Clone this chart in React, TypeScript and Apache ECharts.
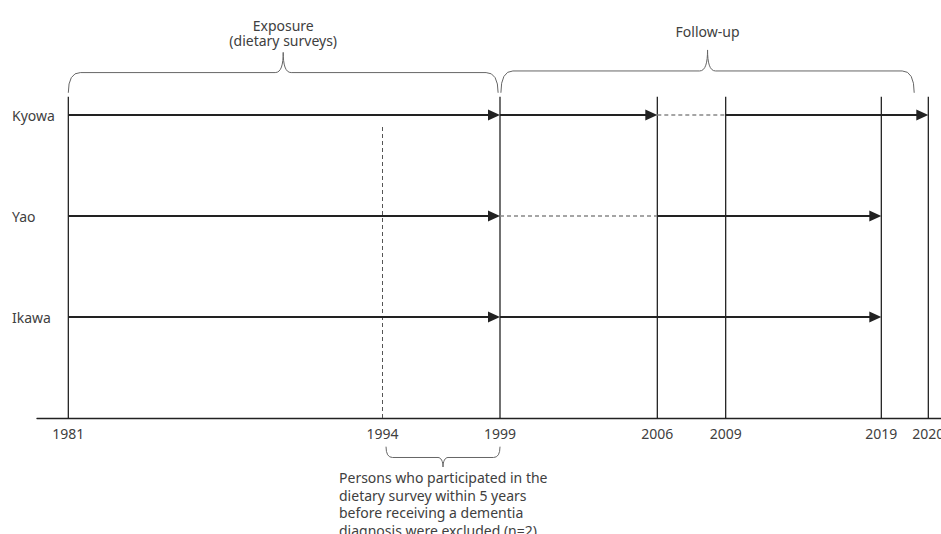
import React, { useEffect, useRef } from "react";
import * as echarts from "echarts";

// Years marked on the timeline and their schematic position along it (the original is not drawn to scale)
const tickYears = [1981, 1994, 1999, 2006, 2009, 2019, 2020];
const tickSlots = [31.3, 345.5, 463, 620.3, 688.7, 844.3, 891.3];

// Cohort rows (y value 1..3)
const cohorts = ["Ikawa", "Yao", "Kyowa"];

// Segments: [fromYear, toYear, row, dashed (0/1), arrowHead (0/1)]
const kyowaSegments = [
  [1981, 1999, 3, 0, 1],
  [1999, 2006, 3, 0, 1],
  [2006, 2009, 3, 1, 0],
  [2009, 2020, 3, 0, 1],
];
const yaoSegments = [
  [1981, 1999, 2, 0, 1],
  [1999, 2006, 2, 1, 0],
  [2006, 2019, 2, 0, 1],
];
const ikawaSegments = [
  [1981, 1999, 1, 0, 1],
  [1999, 2019, 1, 0, 1],
];

// Vertical markers: [year, top (row units), dashed (0/1)]
const markers = [
  [1981, 3.18, 0],
  [1994, 2.9, 1],
  [1999, 3.18, 0],
  [2006, 3.18, 0],
  [2009, 3.18, 0],
  [2019, 3.18, 0],
  [2020, 3.18, 0],
];

// Braces: [fromYear, toYear, endY, barY, tipY]
const braces = [
  [1981, 1998.92, 3.22, 3.42, 3.62],
  [1999.04, 2019.7, 3.22, 3.436, 3.644],
  [1994.15, 1999, -0.284, -0.391, -0.485],
];
const braceLabels = [
  "Exposure\n(dietary surveys)",
  "Follow-up",
  "Persons who participated in the\ndietary survey within 5 years\nbefore receiving a dementia\ndiagnosis were excluded (n=2)",
];

function slotOf(year: number): number {
  for (let i = 0; i < tickYears.length - 1; i++) {
    const a = tickYears[i];
    const b = tickYears[i + 1];
    if (year >= a && year <= b) {
      const t = (year - a) / (b - a);
      return tickSlots[i] + t * (tickSlots[i + 1] - tickSlots[i]);
    }
  }
  return year < tickYears[0] ? tickSlots[0] : tickSlots[tickSlots.length - 1];
}

const FONT = "'Noto Sans', 'Noto Sans CJK JP', sans-serif";
const TEXT_COLOR = "#404040";

export default function App() {
  const ref = useRef<HTMLDivElement>(null);

  useEffect(() => {
    if (!ref.current) return;
    const chart = echarts.init(ref.current, undefined, { renderer: "svg" });

    const segmentData = [...kyowaSegments, ...yaoSegments, ...ikawaSegments].map((s) => [
      slotOf(s[0]),
      slotOf(s[1]),
      s[2],
      s[3],
      s[4],
    ]);
    const markerData = markers.map((m) => [slotOf(m[0]), m[1], m[2]]);
    const braceData = braces.map((b) => [slotOf(b[0]), slotOf(b[1]), b[2], b[3], b[4]]);

    const option: any = {
      animation: false,
      backgroundColor: "#ffffff",
      grid: {
        left: 37,
        right: 0,
        top: 14,
        bottom: 116,
        containLabel: false,
        outerBoundsMode: "none",
      },
      xAxis: {
        type: "value",
        min: 0,
        max: 904,
        axisLine: { show: true, onZero: true, lineStyle: { color: "#222", width: 1.4 } },
        axisTick: { show: false },
        splitLine: { show: false },
        axisLabel: {
          customValues: tickSlots,
          margin: 8,
          color: TEXT_COLOR,
          fontSize: 14,
          fontFamily: FONT,
          hideOverlap: false,
          formatter: (v: number) => {
            let best = 0;
            for (let i = 0; i < tickSlots.length; i++) {
              if (Math.abs(tickSlots[i] - v) < Math.abs(tickSlots[best] - v)) best = i;
            }
            return String(tickYears[best]);
          },
        },
      },
      yAxis: {
        type: "value",
        min: 0,
        max: 4,
        interval: 1,
        axisLine: { show: false },
        axisTick: { show: false },
        splitLine: { show: false },
        axisLabel: {
          align: "left",
          margin: 25,
          color: TEXT_COLOR,
          fontSize: 14,
          fontFamily: FONT,
          formatter: (v: number) => cohorts[v - 1] || "",
        },
      },
      series: [
        {
          type: "custom",
          name: "markers",
          clip: false,
          data: markerData,
          renderItem: (params: any, api: any) => {
            const x = api.value(0);
            const top = api.value(1);
            const dashed = api.value(2) === 1;
            const p0 = api.coord([x, 0]);
            const p1 = api.coord([x, top]);
            return {
              type: "line",
              shape: { x1: p0[0], y1: p0[1], x2: p1[0], y2: p1[1] },
              style: dashed
                ? { stroke: "#555", lineWidth: 1, lineDash: [4, 3] }
                : { stroke: "#111", lineWidth: 1.2 },
            };
          },
        },
        {
          type: "custom",
          name: "segments",
          clip: false,
          data: segmentData,
          renderItem: (params: any, api: any) => {
            const xa = api.value(0);
            const xb = api.value(1);
            const row = api.value(2);
            const dashed = api.value(3) === 1;
            const arrow = api.value(4) === 1;
            const p1 = api.coord([xa, row]);
            const p2 = api.coord([xb, row]);
            const len = 12;
            const half = 5.5;
            const children: any[] = [
              {
                type: "line",
                shape: { x1: p1[0], y1: p1[1], x2: arrow ? p2[0] - len + 1 : p2[0], y2: p2[1] },
                style: dashed
                  ? { stroke: "#888", lineWidth: 1.5, lineDash: [4, 3] }
                  : { stroke: "#222", lineWidth: 2.2 },
              },
            ];
            if (arrow) {
              children.push({
                type: "polygon",
                shape: {
                  points: [
                    [p2[0] - len, p2[1] - half],
                    [p2[0], p2[1]],
                    [p2[0] - len, p2[1] + half],
                  ],
                },
                style: { fill: "#222", stroke: "none" },
              });
            }
            return { type: "group", children };
          },
        },
        {
          type: "custom",
          name: "braces",
          clip: false,
          data: braceData,
          renderItem: (params: any, api: any) => {
            const xa = api.value(0);
            const xb = api.value(1);
            const pa = api.coord([xa, api.value(2)]);
            const pb = api.coord([xb, api.value(2)]);
            const yh = api.coord([xa, api.value(3)])[1];
            const yt = api.coord([xa, api.value(4)])[1];
            const yb = pa[1];
            const x1 = pa[0];
            const x2 = pb[0];
            const xc = (x1 + x2) / 2;
            const endH = Math.abs(yb - yh);
            const tipH = Math.abs(yh - yt);
            const r = Math.min(12, endH * 0.6);
            const c = Math.min(8, Math.max(5, tipH * 0.45));
            const s = yt < yh ? -1 : 1; // direction of tip
            const d =
              `M ${x1} ${yb} Q ${x1} ${yh} ${x1 + r} ${yh} ` +
              `L ${xc - c} ${yh} C ${xc - 2} ${yh} ${xc} ${yh + s * tipH * 0.4} ${xc} ${yt} ` +
              `C ${xc} ${yh + s * tipH * 0.4} ${xc + 2} ${yh} ${xc + c} ${yh} ` +
              `L ${x2 - r} ${yh} Q ${x2} ${yh} ${x2} ${yb}`;
            const i = params.dataIndex;
            let text: any;
            if (i === 2) {
              text = {
                type: "text",
                x: xc - 104,
                y: yt + 2,
                style: {
                  text: braceLabels[i],
                  fill: TEXT_COLOR,
                  fontSize: 14,
                  fontFamily: FONT,
                  lineHeight: 17.5,
                  align: "left",
                  verticalAlign: "top",
                  textAlign: "left",
                  textVerticalAlign: "top",
                },
              };
            } else {
              text = {
                type: "text",
                x: xc,
                y: yt - (i === 0 ? 5 : 11),
                style: {
                  text: braceLabels[i],
                  fill: TEXT_COLOR,
                  fontSize: 14,
                  fontFamily: FONT,
                  lineHeight: 14.5,
                  align: "center",
                  verticalAlign: "bottom",
                  textAlign: "center",
                  textVerticalAlign: "bottom",
                },
              };
            }
            return {
              type: "group",
              children: [
                {
                  type: "path",
                  shape: { pathData: d },
                  style: { fill: "none", stroke: "#666", lineWidth: 1 },
                },
                text,
              ],
            };
          },
        },
      ],
    };

    chart.setOption(option);
    return () => chart.dispose();
  }, []);

  return (
    <div
      ref={ref}
      style={{ position: "absolute", left: 0, top: 0, width: 941, height: 534 }}
    />
  );
}
